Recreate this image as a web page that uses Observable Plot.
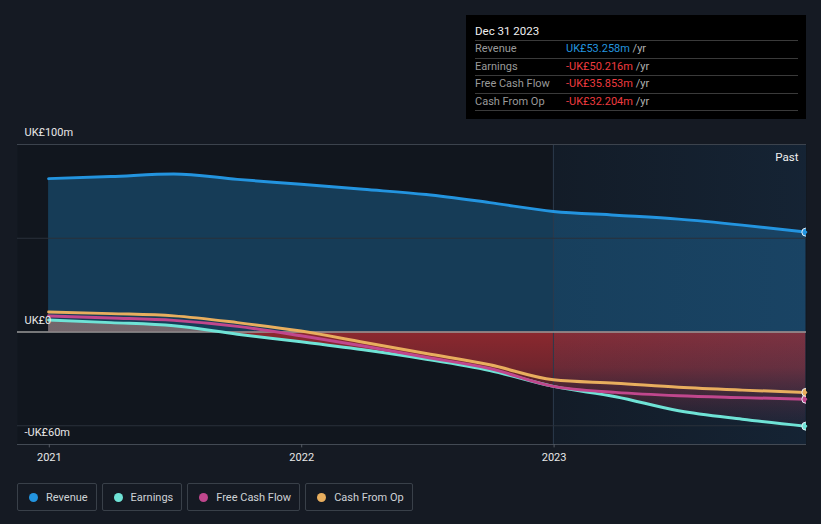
<!DOCTYPE html>
<html>
<head>
<meta charset="utf-8">
<script src="https://cdn.jsdelivr.net/npm/d3@7"></script>
<script src="https://cdn.jsdelivr.net/npm/@observablehq/plot@0.6"></script>
<style>
  html, body { margin: 0; padding: 0; background: #151a23; }
  body { width: 821px; height: 524px; overflow: hidden; position: relative; font-family: Roboto, "Noto Sans", sans-serif; }
  #chart { position: absolute; left: 0; top: 0; }
  #tip { position: absolute; left: 466px; top: 15px; width: 340px; height: 104px; background: #000; box-sizing: border-box; padding: 9px 8px 0 9px; font-size: 11px; }
  #tip .title { color: #f0f0f0; font-size: 11.5px; height: 16px; line-height: 14px; border-bottom: 1px solid #3a3a3a; }
  #tip .row { display: flex; height: 16.5px; line-height: 16.5px; border-bottom: 1px solid #3a3a3a; }
  #tip .lab { width: 91px; color: #9a9a9a; }
  #tip .unit { color: #b0b0b0; }
  #legend { position: absolute; left: 17px; top: 483px; display: flex; gap: 5px; }
  #legend .item { box-sizing: border-box; height: 28px; border: 1px solid #394049; border-radius: 2px; display: flex; align-items: center; padding: 0 8px 0 11px; color: #cfd2d6; font-size: 11px; }
  #legend .dot { width: 9px; height: 9px; border-radius: 50%; margin-right: 8px; }
</style>
</head>
<body>
<div id="chart"></div>
<div id="tip"></div>
<div id="legend"></div>
<script>
// ---- data (UK£ millions, trailing twelve months) ----
const dates    = ["2020-12-31","2021-03-31","2021-06-30","2021-09-30","2021-12-31","2022-03-31","2022-06-30","2022-09-30","2022-12-31","2023-03-31","2023-06-30","2023-09-30","2023-12-31"];
const revenue  = [81.8, 82.9, 84.3, 81.4, 78.8, 76.1, 73.3, 69.0, 64.3, 62.3, 60.2, 57.0, 53.258];
const earnings = [6.4, 5.0, 3.3, -1.2, -5.2, -9.5, -14.5, -20.5, -29.0, -34.5, -42.0, -46.5, -50.216];
const fcf      = [8.6, 7.5, 6.2, 3.0, -2.0, -7.5, -13.5, -19.5, -29.0, -32.2, -34.0, -35.0, -35.853];
const cfo      = [10.7, 9.8, 8.6, 5.0, 0.5, -5.5, -11.5, -17.5, -25.5, -27.3, -29.5, -31.0, -32.204];

const seriesNames  = ["Revenue", "Earnings", "Free Cash Flow", "Cash From Op"];
const seriesKeys   = ["revenue", "earnings", "fcf", "cfo"];
const seriesColors = ["#2394df", "#6fe3d6", "#c0478d", "#e8ae5e"];

const yTickValues = [100, 0, -60];
const yTickLabels = ["UK£100m", "UK£0", "-UK£60m"];
const gridValues  = [50, -50];
const xTickDates  = ["2021-01-01", "2022-01-01", "2023-01-01"];
const xDomain     = ["2020-11-16", "2024-01-01"];
const pastStart   = "2022-12-31";
const pastLabel   = "Past";

const tipTitle  = "Dec 31 2023";
const tipValues = ["UK£53.258m", "-UK£50.216m", "-UK£35.853m", "-UK£32.204m"];

// ---- build table ----
const rows = dates.map((d, i) => ({
  date: new Date(d), revenue: revenue[i], earnings: earnings[i], fcf: fcf[i], cfo: cfo[i]
}));
const last = rows[rows.length - 1];
const curve = "monotone-x";

const plot = Plot.plot({
  width: 821,
  height: 470,
  marginTop: 144,
  marginBottom: 26,
  marginLeft: 17,
  marginRight: 15,
  style: { background: "transparent", color: "#e6e6e6", fontFamily: "Roboto, sans-serif", fontSize: "12px" },
  x: { type: "utc", domain: xDomain.map(d => new Date(d)), axis: null },
  y: { domain: [-60, 100], axis: null },
  marks: [
    Plot.frame({ fill: "#11161e", stroke: "none" }),
    Plot.areaY(rows, { x: "date", y: "revenue", fill: seriesColors[0], fillOpacity: 0.3, curve }),
    Plot.areaY(rows, { x: "date", y: "earnings", fill: "url(#earnGrad)", curve }),
    Plot.rect([pastStart], { x1: d => new Date(d), x2: () => new Date(xDomain[1]), y1: -60, y2: 100, fill: "url(#pastGrad)" }),
    Plot.ruleX([pastStart], { x: d => new Date(d), y1: -60, y2: 100, stroke: "#2b3a4b", strokeWidth: 1 }),
    Plot.ruleY(gridValues, { stroke: "#2a313b", strokeWidth: 1 }),
    Plot.ruleY([100], { stroke: "#3c434d", strokeWidth: 1 }),
    Plot.ruleY([-60], { stroke: "#434a54", strokeWidth: 1 }),
    Plot.ruleY([0], { stroke: "#9a9a9a", strokeWidth: 1.5 }),
    Plot.line(rows, { x: "date", y: "earnings", stroke: seriesColors[1], strokeWidth: 3, curve }),
    Plot.line(rows, { x: "date", y: "fcf", stroke: seriesColors[2], strokeWidth: 3, curve }),
    Plot.line(rows, { x: "date", y: "cfo", stroke: seriesColors[3], strokeWidth: 3, curve }),
    Plot.line(rows, { x: "date", y: "revenue", stroke: seriesColors[0], strokeWidth: 3, curve }),
    ...seriesKeys.map((k, i) => Plot.dot([last], { x: "date", y: k, r: 4, fill: seriesColors[i], stroke: "#e8eef5", strokeWidth: 1, clip: true })),
    Plot.text(yTickValues, { y: d => d, frameAnchor: "left", dx: 7, dy: -12, textAnchor: "start", text: (d, i) => yTickLabels[i], fill: "#e8e8e8", fontSize: 11 }),
    Plot.ruleX(xTickDates, { x: d => new Date(d), y1: -60, y2: -61.8, stroke: "#555b64" }),
    Plot.text(xTickDates, { x: d => new Date(d), frameAnchor: "bottom", dy: 16, text: d => d.slice(0, 4), fill: "#e8e8e8", fontSize: 11 }),
    Plot.text([pastLabel], { frameAnchor: "top-right", dx: -8, dy: 8, text: d => d, fill: "#f0f0f0", fontSize: 11.5 })
  ]
});

// gradients (styles only)
const svg = d3.select(plot);
const y0 = plot.scale("y").apply(0);
const yTop = plot.scale("y").apply(100);
const yBot = plot.scale("y").apply(-60);
const zOff = (y0 - yTop) / (yBot - yTop);
const defs = svg.insert("defs", ":first-child");
const eg = defs.append("linearGradient").attr("id", "earnGrad")
  .attr("gradientUnits", "userSpaceOnUse").attr("x1", 0).attr("x2", 0).attr("y1", yTop).attr("y2", yBot);
[[0, "#7d6b6e", 0.9], [zOff, "#7d6b6e", 0.9], [zOff, "#a22b31", 0.85], [zOff + 0.12, "#952b33", 0.72], [zOff + 0.25, "#7a2a3a", 0.3], [1, "#3a2a40", 0.0]]
  .forEach(([o, c, a]) => eg.append("stop").attr("offset", o).attr("stop-color", c).attr("stop-opacity", a));
const pg = defs.append("linearGradient").attr("id", "pastGrad").attr("x1", 0).attr("x2", 1).attr("y1", 0).attr("y2", 0);
[[0, "#2a6aa8", 0.07], [1, "#2a6aa8", 0.16]]
  .forEach(([o, c, a]) => pg.append("stop").attr("offset", o).attr("stop-color", c).attr("stop-opacity", a));

document.getElementById("chart").appendChild(plot);

// tooltip
const tip = d3.select("#tip");
tip.append("div").attr("class", "title").text(tipTitle);
seriesNames.forEach((n, i) => {
  const r = tip.append("div").attr("class", "row");
  r.append("span").attr("class", "lab").text(n);
  const neg = tipValues[i].startsWith("-");
  r.append("span").style("color", neg ? "#ee3b3f" : "#2394df").text(tipValues[i]);
  r.append("span").attr("class", "unit").html("&nbsp;/yr");
});

// legend
const lg = d3.select("#legend");
seriesNames.forEach((n, i) => {
  const it = lg.append("div").attr("class", "item");
  it.append("div").attr("class", "dot").style("background", seriesColors[i]);
  it.append("span").text(n);
});
</script>
</body>
</html>
